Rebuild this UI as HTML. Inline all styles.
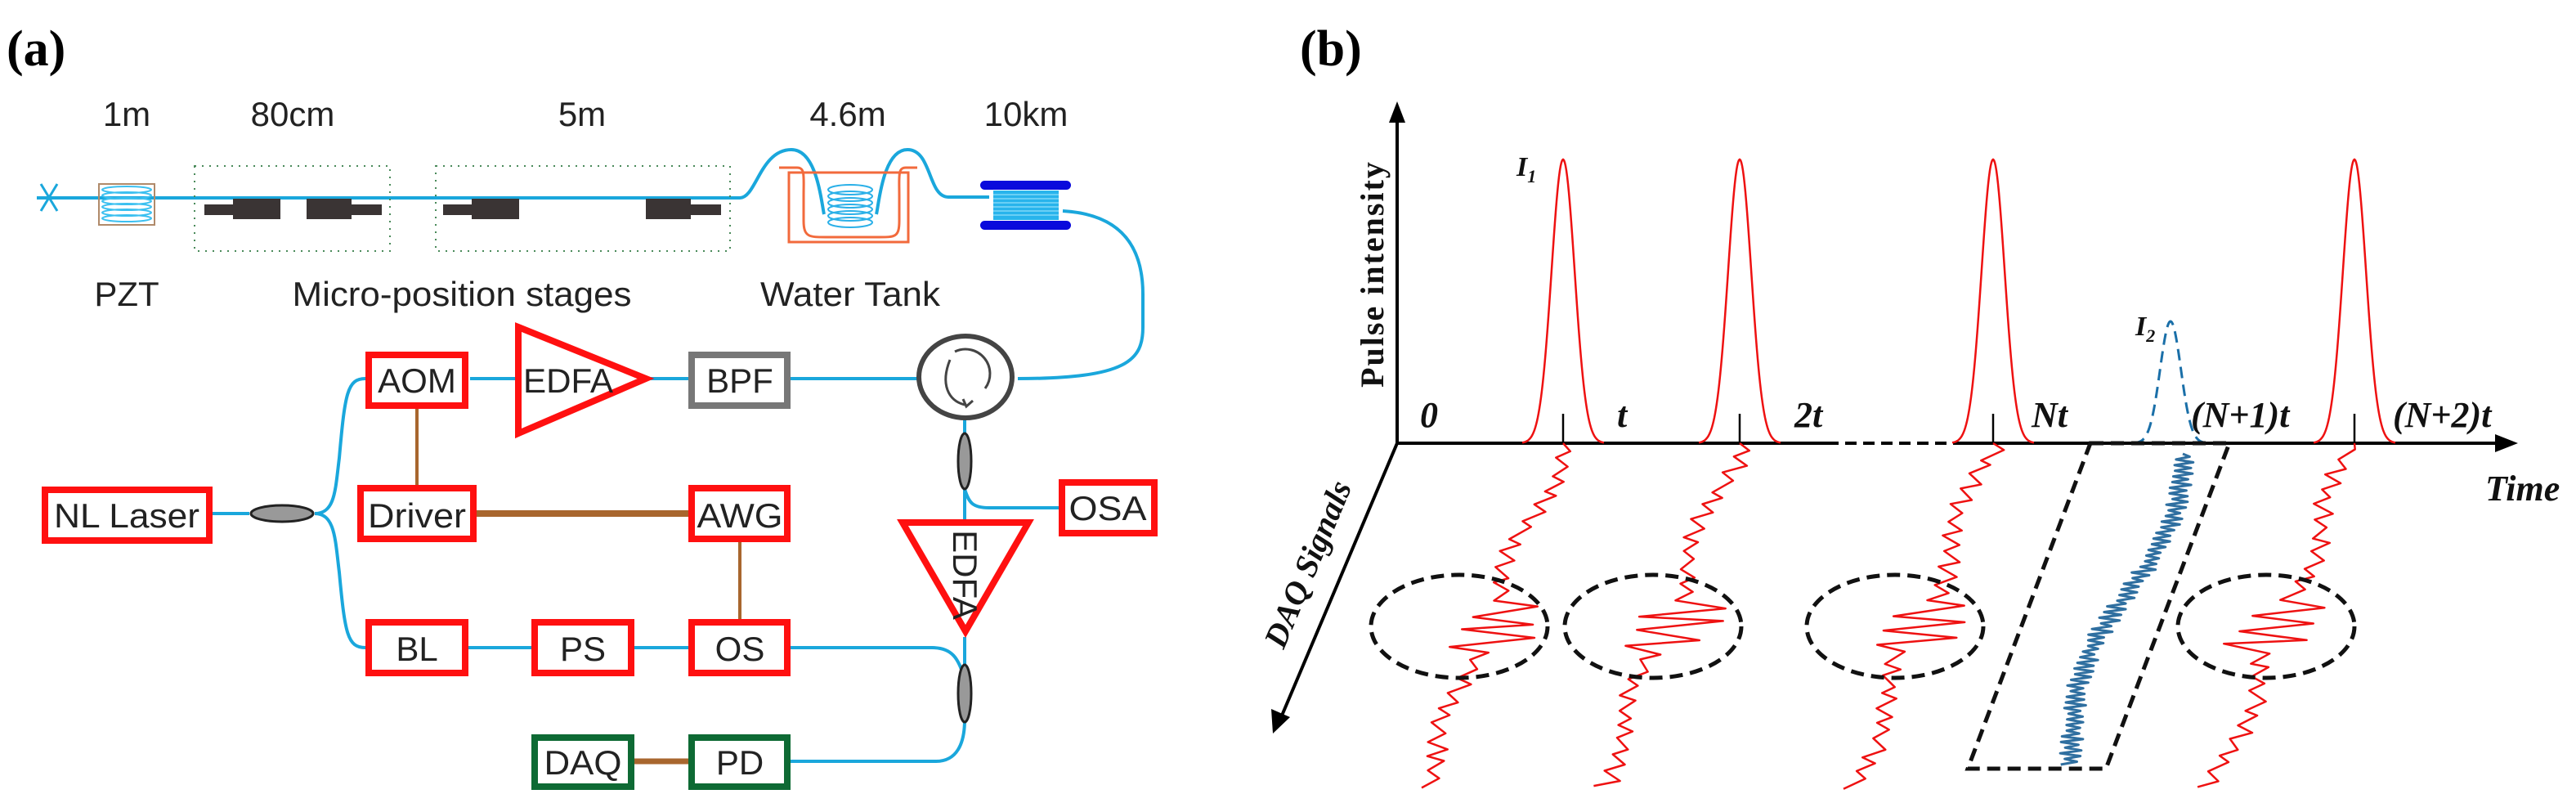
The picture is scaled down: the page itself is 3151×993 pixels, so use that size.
<!DOCTYPE html>
<html><head><meta charset="utf-8"><style>
html,body{margin:0;padding:0;background:#fff;width:3151px;height:993px;overflow:hidden}
svg{display:block}
.lab{font-family:"Liberation Sans Narrow","Liberation Sans",sans-serif;font-size:42px;fill:#222}
.bx{font-family:"Liberation Sans Narrow","Liberation Sans",sans-serif;font-size:42px;fill:#222;text-anchor:middle}
.it{font-family:"Liberation Serif",serif;font-style:italic;font-weight:bold;font-size:44px;fill:#111}
</style></head><body>
<svg id="s" width="3151" height="993" viewBox="0 0 3151 993" xmlns="http://www.w3.org/2000/svg">
<text x="8" y="80" font-family="Liberation Serif,serif" font-weight="bold" font-size="62">(a)</text>
<text x="1590" y="80" font-family="Liberation Serif,serif" font-weight="bold" font-size="62">(b)</text>

<g class="lab" text-anchor="middle">
<text x="155" y="154">1m</text><text x="358" y="154">80cm</text><text x="712" y="154">5m</text>
<text x="1037" y="154">4.6m</text><text x="1255" y="154">10km</text>
<text x="155" y="374">PZT</text><text x="565" y="374" textLength="415" lengthAdjust="spacingAndGlyphs">Micro-position stages</text><text x="1040" y="374" textLength="220" lengthAdjust="spacingAndGlyphs">Water Tank</text>
</g>

<g fill="none" stroke="#1aa7dc" stroke-width="4">
<path d="M45 242 H905 C925 242 930 183 968 183 C1000 183 1005 250 1008 262"/>
<path d="M1072 262 C1075 250 1080 183 1110 183 C1140 183 1135 241 1160 241 H1210"/>
<path d="M1300 258 C1370 262 1398 300 1398 360 V400 C1398 440 1380 463 1245 463"/>
<path d="M575 463 H630"/><path d="M795 463 H842"/><path d="M967 463 H1125"/>
<path d="M385 628 C410 628 410 600 415 560 C422 480 425 463 447 463"/>
<path d="M385 628 C410 628 410 660 415 700 C422 775 425 792 447 792"/>
<path d="M260 628 H305"/>
<path d="M572 792 H650"/><path d="M775 792 H842"/>
<path d="M967 792 H1140 C1165 792 1172 805 1180 830"/>
<path d="M1180 513 V530"/><path d="M1180 598 V636"/>
<path d="M1180 598 C1185 615 1190 621 1210 621 H1295"/>
<path d="M1180 779 V815"/>
<path d="M1180 880 C1180 910 1170 931 1145 931 H967"/>
</g>
<path d="M50 225 L70 258 M70 225 L50 258" stroke="#1aa7dc" stroke-width="3"/>
<rect x="121" y="225" width="68" height="50" fill="none" stroke="#b08a6a" stroke-width="2"/>
<g fill="none" stroke="#3cc0f0" stroke-width="2">
<ellipse cx="155" cy="232" rx="30" ry="4"/><ellipse cx="155" cy="239" rx="30" ry="4"/><ellipse cx="155" cy="246" rx="30" ry="4"/><ellipse cx="155" cy="253" rx="30" ry="4"/><ellipse cx="155" cy="260" rx="30" ry="4"/><ellipse cx="155" cy="267" rx="30" ry="4"/>
</g>
<g fill="none" stroke="#4a8a5a" stroke-width="2" stroke-dasharray="2 7">
<rect x="238" y="203" width="239" height="104"/><rect x="533" y="203" width="360" height="104"/>
</g>
<g fill="#3a3434">
<rect x="250" y="250" width="40" height="13"/><rect x="285" y="243" width="58" height="25"/>
<rect x="375" y="243" width="55" height="25"/><rect x="425" y="250" width="42" height="13"/>
<rect x="542" y="250" width="40" height="13"/><rect x="577" y="243" width="58" height="25"/>
<rect x="790" y="243" width="55" height="25"/><rect x="840" y="250" width="42" height="13"/>
</g>
<g fill="none" stroke="#f26a3c" stroke-width="3">
<rect x="965" y="211" width="146" height="85"/>
<path d="M953 205 H975 C985 205 983 215 983 240 V270 C983 290 990 290 1010 290 H1075 C1095 290 1100 290 1100 270 V240 C1100 215 1098 205 1108 205 H1122"/>
</g>
<g fill="none" stroke="#2ab0e8" stroke-width="2">
<ellipse cx="1040" cy="232" rx="27" ry="6"/><ellipse cx="1040" cy="240" rx="27" ry="6"/><ellipse cx="1040" cy="248" rx="27" ry="6"/><ellipse cx="1040" cy="256" rx="27" ry="6"/><ellipse cx="1040" cy="264" rx="27" ry="6"/><ellipse cx="1040" cy="272" rx="27" ry="6"/>
</g>
<rect x="1215" y="233" width="80" height="36" fill="#28b4ec"/>
<g stroke="#7fd8f8" stroke-width="1.5"><line x1="1215" y1="238" x2="1295" y2="238"/><line x1="1215" y1="243" x2="1295" y2="243"/><line x1="1215" y1="248" x2="1295" y2="248"/><line x1="1215" y1="253" x2="1295" y2="253"/><line x1="1215" y1="258" x2="1295" y2="258"/><line x1="1215" y1="263" x2="1295" y2="263"/></g>
<rect x="1199" y="221" width="111" height="11" rx="5.5" fill="#0a0adc"/>
<rect x="1199" y="270" width="111" height="11" rx="5.5" fill="#0a0adc"/>
<ellipse cx="1181" cy="461" rx="57" ry="50" fill="#fff" stroke="#444" stroke-width="6"/>
<path d="M1162 440 C1150 470 1160 490 1180 495 M1178 488 L1182 497 L1190 490 M1168 430 A30 30 0 0 1 1205 475" fill="none" stroke="#444" stroke-width="3"/>

<g fill="#fff" stroke="#ff1010" stroke-width="8">
<rect x="451" y="434" width="118" height="62"/>
<rect x="55" y="599" width="201" height="62"/>
<rect x="441" y="597" width="138" height="62"/>
<rect x="846" y="597" width="117" height="62"/>
<rect x="451" y="761" width="118" height="62"/>
<rect x="654" y="761" width="118" height="62"/>
<rect x="846" y="761" width="117" height="62"/>
<rect x="1299" y="590" width="113" height="62"/>
<path d="M634 400 L790 463 L634 530 Z"/>
<path d="M1104 639 L1258 639 L1181 772 Z"/>
</g>
<rect x="846" y="434" width="117" height="62" fill="#fff" stroke="#777" stroke-width="8"/>
<g fill="#fff" stroke="#0e6a34" stroke-width="8">
<rect x="654" y="902" width="118" height="60"/><rect x="846" y="902" width="117" height="60"/>
</g>
<g stroke="#a8662e">
<line x1="510" y1="500" x2="510" y2="593" stroke-width="4"/>
<line x1="583" y1="628" x2="842" y2="628" stroke-width="8"/>
<line x1="905" y1="663" x2="905" y2="757" stroke-width="4"/>
<line x1="776" y1="931" x2="842" y2="931" stroke-width="7"/>
</g>
<g fill="#999" stroke="#222" stroke-width="3">
<ellipse cx="345" cy="628" rx="38" ry="10"/>
<ellipse cx="1180" cy="564" rx="8" ry="34"/>
<ellipse cx="1180" cy="848" rx="8" ry="35"/>
</g>
<g class="bx">
<text x="510" y="480">AOM</text><text x="695" y="480" textLength="110" lengthAdjust="spacingAndGlyphs">EDFA</text><text x="905" y="480">BPF</text>
<text x="155" y="645" textLength="178" lengthAdjust="spacingAndGlyphs">NL Laser</text><text x="510" y="645" textLength="120" lengthAdjust="spacingAndGlyphs">Driver</text><text x="905" y="645" textLength="105" lengthAdjust="spacingAndGlyphs">AWG</text>
<text x="510" y="808">BL</text><text x="713" y="808">PS</text><text x="905" y="808">OS</text>
<text x="1355" y="636" textLength="95" lengthAdjust="spacingAndGlyphs">OSA</text>
<text x="713" y="947" textLength="95" lengthAdjust="spacingAndGlyphs">DAQ</text><text x="905" y="947">PD</text>
<text transform="translate(1166 703) rotate(90)">EDFA</text>
</g>

<g stroke="#000" stroke-width="4" fill="none">
<line x1="1709" y1="542" x2="1709" y2="140"/>
<line x1="1709" y1="542" x2="2235" y2="542"/>
<line x1="2235" y1="542" x2="2400" y2="542" stroke-dasharray="14 8"/>
<line x1="2400" y1="542" x2="3055" y2="542"/>
<line x1="1709" y1="542" x2="1568" y2="875"/>
</g>
<path d="M1709 124 L1699 150 L1719 150 Z" fill="#000"/>
<path d="M3080 542 L3052 531 L3052 553 Z" fill="#000"/>
<path d="M1557 897 L1555 867 L1578 877 Z" fill="#000"/>
<text class="it" transform="translate(1692 335) rotate(-90)" text-anchor="middle" style="font-style:normal;font-size:40px;letter-spacing:2px">Pulse intensity</text>
<text class="it" transform="translate(1612 695) rotate(-67.3)" text-anchor="middle" style="font-size:40px">DAQ Signals</text>
<text class="it" x="3040" y="612" style="font-size:44px">Time</text>
<g class="it">
<text x="1737" y="522">0</text><text x="1978" y="522">t</text><text x="2195" y="522">2t</text><text x="2485" y="522">Nt</text>
<text x="2680" y="522">(N+1)t</text><text x="2927" y="522">(N+2)t</text>
<text x="1855" y="215" style="font-size:34px">I<tspan dy="8" font-size="22">1</tspan></text>
<text x="2612" y="410" style="font-size:34px">I<tspan dy="8" font-size="22">2</tspan></text>
</g>
<g id="pulses" fill="none" stroke="#ee1111" stroke-width="2.5"></g>
<g id="ticks" stroke="#000" stroke-width="2.5"></g>
<path id="bp" fill="none" stroke="#1a6fa8" stroke-width="3" stroke-dasharray="14 8"/>
<g id="traces" fill="none" stroke="#ee1111" stroke-width="2.5" stroke-linejoin="round"></g>
<path id="bt" fill="none" stroke="#2f6fa0" stroke-width="3" stroke-linejoin="round"/>
<g fill="none" stroke="#111" stroke-width="5" stroke-dasharray="16 9">
<ellipse cx="1785" cy="766" rx="108" ry="63"/>
<ellipse cx="2022" cy="766" rx="108" ry="63"/>
<ellipse cx="2318" cy="766" rx="108" ry="63"/>
<ellipse cx="2772" cy="766" rx="108" ry="63"/>
<path d="M2557 542 H2727 L2576 940 H2407 Z"/>
</g>
</svg>
<script>
var NS="http://www.w3.org/2000/svg";
function g(id){return document.getElementById(id)}
function pulse(cx,peak,w){var d="";for(var i=-50;i<=50;i++){var x=cx+i*w/50;var y=542-(542-peak)*Math.exp(-Math.pow(i/20,2));d+=(i==-50?"M":"L")+x.toFixed(1)+" "+y.toFixed(1)}return d}
var cs=[1912,2128,2438,2880];
cs.forEach(function(c,k){var p=document.createElementNS(NS,"path");p.setAttribute("d",pulse(c,195,50));g("pulses").appendChild(p);
var t=document.createElementNS(NS,"line");t.setAttribute("x1",c);t.setAttribute("x2",c);t.setAttribute("y1",506);t.setAttribute("y2",542);g("ticks").appendChild(t);
var s=7+k*13;function r(){s=(s*9301+49297)%233280;return s/233280}
var d="M"+c+" 542";
var N=44;
for(var j=1;j<=N;j++){var tt=j/N;var y=542+420*tt;var base=c-172*tt;
var inC=(tt>0.47&&tt<0.6);
var amp=inC?38:12;
var dx=(j%2?1:-1)*amp*(0.5+r()*0.6)+Math.sin(tt*14+k)*10;
if(inC){dx+= (j%2? 20:-10);}
d+=" L"+(base+dx).toFixed(1)+" "+(y+(r()-0.5)*6).toFixed(1)}
var q=document.createElementNS(NS,"path");q.setAttribute("d",d);g("traces").appendChild(q)});
g("bp").setAttribute("d",pulse(2655,393,45));
var d="M2670 555",s=3;for(var j=1;j<=110;j++){var tt=j/110;var y=555+380*tt;var base=2670-150*tt+Math.sin(tt*7)*18;s=(s*9301+49297)%233280;var dx=(j%2?1:-1)*(6+s/233280*8);d+=" L"+(base+dx).toFixed(1)+" "+y.toFixed(1)}
g("bt").setAttribute("d",d);
</script>
</body></html>
